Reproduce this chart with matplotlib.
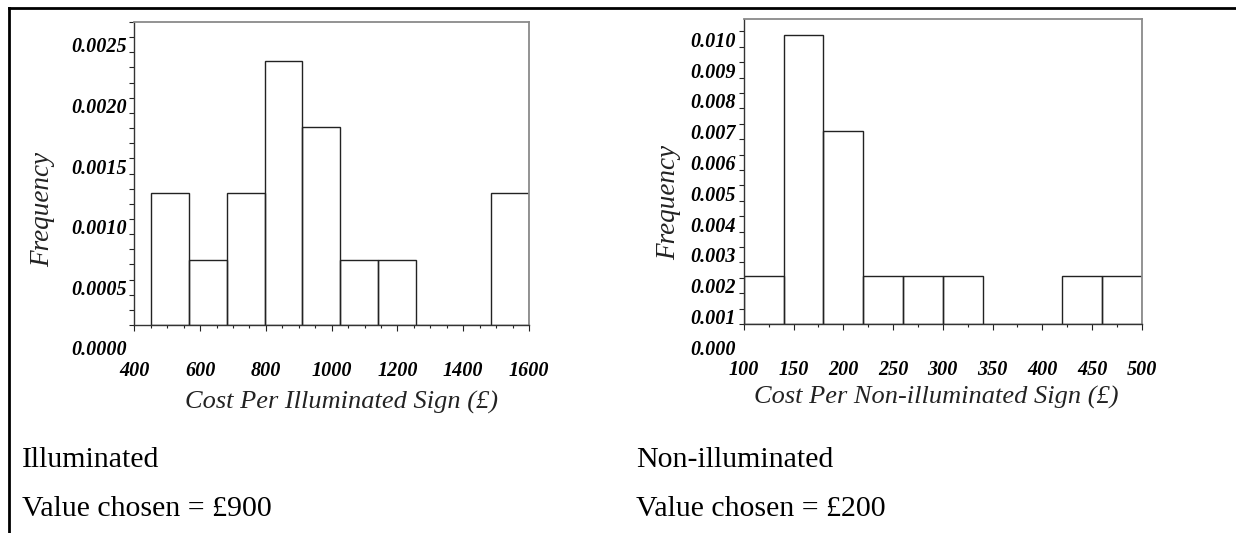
import numpy as np
import matplotlib
matplotlib.use("Agg")
import matplotlib.pyplot as plt
from matplotlib.lines import Line2D
from matplotlib.ticker import MultipleLocator, FixedLocator

# histogram data (bin edges and density heights)
illum_edges = [452, 567, 681, 796, 911, 1026, 1140, 1255, 1370, 1485, 1600]
illum_heights = [0.00109, 0.00054, 0.00109, 0.00218, 0.00163, 0.00054, 0.00054, 0.0, 0.0, 0.00109]
illum_xticks = [400, 600, 800, 1000, 1200, 1400, 1600]
illum_ylabels = ["0.0000", "0.0005", "0.0010", "0.0015", "0.0020", "0.0025"]

non_edges = [100, 140, 180, 220, 260, 300, 340, 380, 420, 460, 500]
non_heights = [0.00156, 0.00938, 0.00625, 0.00156, 0.00156, 0.00156, 0.0, 0.0, 0.00156, 0.00156]
non_xticks = [100, 150, 200, 250, 300, 350, 400, 450, 500]
non_ylabels = ["0.000", "0.001", "0.002", "0.003", "0.004", "0.005", "0.006", "0.007", "0.008", "0.009", "0.010"]

serif = "Liberation Serif"
tick_font = dict(family=serif, style="italic", weight="bold", size=14.5)

fig = plt.figure(figsize=(12.36, 5.33), dpi=100)


def draw_hist(rect, edges, heights, xlim, xticks, xminor, ylim, ystep, yshift,
              yminor, ylabels, xlabel, xlab_pos, ylab_pos):
    ax = fig.add_axes(rect)
    edges = np.array(edges)
    ax.bar(edges[:-1], heights, width=np.diff(edges), align="edge",
           fill=False, edgecolor="#222222", linewidth=1.0)
    ax.set_xlim(*xlim)
    ax.set_ylim(*ylim)

    ax.set_xticks(xticks)
    ax.set_xticklabels([str(t) for t in xticks], fontdict=tick_font)
    ax.xaxis.set_minor_locator(MultipleLocator(xminor))

    # the y labels are drawn lower than the value they name (as in the source);
    # the first one falls below the axis, so it is placed by hand
    ypos = [i * ystep - yshift for i in range(len(ylabels))]
    inside = [(p, l) for p, l in zip(ypos, ylabels) if p >= 0]
    ax.yaxis.set_major_locator(FixedLocator([p for p, _ in inside]))
    ax.set_yticklabels([l for _, l in inside], fontdict=tick_font)
    ax.yaxis.set_minor_locator(MultipleLocator(yminor))
    for lab in ax.get_yticklabels():
        lab.set_va("baseline")
    for p, l in zip(ypos, ylabels):
        if p < 0:
            ax.annotate(l, xy=(0, p), xycoords=("axes fraction", "data"),
                        xytext=(-5.5, 0), textcoords="offset points",
                        ha="right", va="baseline", annotation_clip=False,
                        **tick_font)

    ax.tick_params(axis="x", which="major", direction="out", length=4, width=0.8,
                   pad=22, color="#222222")
    ax.tick_params(axis="x", which="minor", direction="out", length=2.5, width=0.8,
                   color="#222222")
    ax.tick_params(axis="y", which="both", direction="out", length=3.5, width=0.8,
                   pad=2, color="#222222")

    for side in ["top", "right"]:
        ax.spines[side].set_color("#8a8a8a")
        ax.spines[side].set_linewidth(1.3)
    for side in ["left", "bottom"]:
        ax.spines[side].set_color("#333333")
        ax.spines[side].set_linewidth(1.0)

    ax.text(xlab_pos[0], xlab_pos[1], xlabel, transform=ax.transAxes,
            ha="center", va="center", family=serif, style="italic",
            size=19, color="#222222")
    ax.text(ylab_pos[0], ylab_pos[1], "Frequency", transform=ax.transAxes,
            ha="center", va="center", rotation=90, family=serif,
            style="italic", size=19.5, color="#222222")
    return ax


draw_hist([0.1087, 0.3902, 0.3193, 0.5685], illum_edges, illum_heights,
          (400, 1600), illum_xticks, 50, (0, 0.0025), 0.0005, 0.00025, 0.000125,
          illum_ylabels, "Cost Per Illuminated Sign (\u00a3)",
          (0.525, -0.257), (-0.232, 0.38))

draw_hist([0.6018, 0.3921, 0.3220, 0.5722], non_edges, non_heights,
          (100, 500), non_xticks, 25, (0, 0.0099), 0.001, 0.001, 0.0005,
          non_ylabels, "Cost Per Non-illuminated Sign (\u00a3)",
          (0.483, -0.241), (-0.19, 0.40))

# text under the charts
fig.text(0.0176, 0.1244, "Illuminated", family=serif, size=21.5, va="baseline")
fig.text(0.0176, 0.031, "Value chosen = \u00a3900", family=serif, size=21.5, va="baseline")
fig.text(0.5146, 0.1244, "Non-illuminated", family=serif, size=21.5, va="baseline")
fig.text(0.5146, 0.031, "Value chosen = \u00a3200", family=serif, size=21.5, va="baseline")

# page border lines
fig.add_artist(Line2D([0.007, 1.0], [0.985, 0.985], transform=fig.transFigure,
                      color="black", linewidth=2.0))
fig.add_artist(Line2D([0.007, 0.007], [0.0, 0.985], transform=fig.transFigure,
                      color="black", linewidth=2.0))

fig.savefig("out.png", dpi=100)
